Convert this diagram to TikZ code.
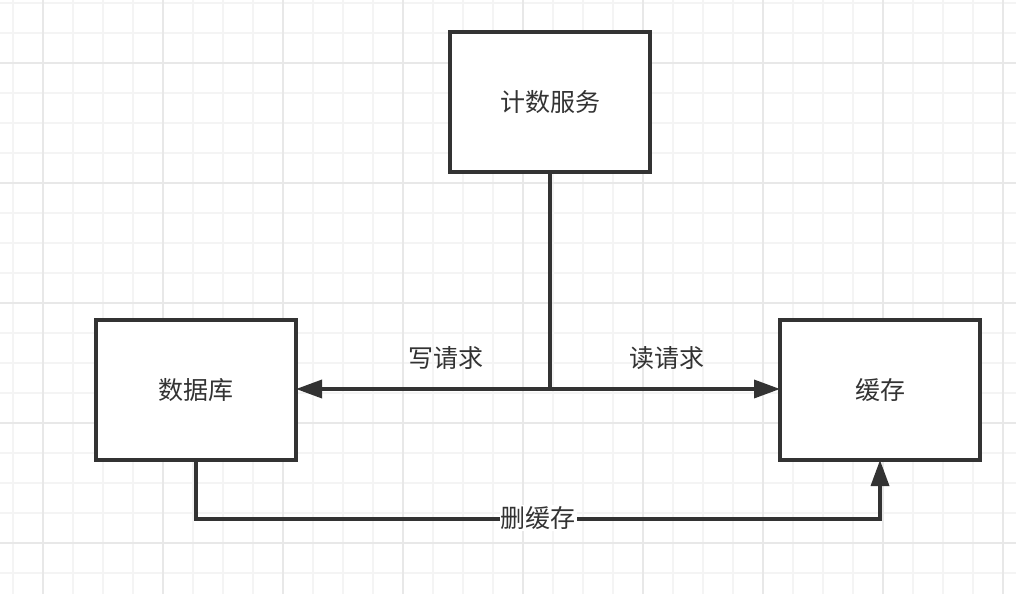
\documentclass[tikz,border=0pt]{standalone}
\usepackage{fontspec}
\setmainfont{Noto Sans CJK SC}
\usetikzlibrary{arrows.meta}
\definecolor{ink}{HTML}{333333}
\definecolor{gridminor}{HTML}{F4F4F4}
\definecolor{gridmajor}{HTML}{E8E8E8}
\begin{document}
\begin{tikzpicture}[x=1pt,y=-1pt,
  box/.style={draw=ink,line width=3.3pt,fill=white,minimum width=200pt,minimum height=140pt,inner sep=0pt,outer sep=0pt,text=ink,font=\fontsize{25}{28}\selectfont},
  conn/.style={draw=ink,line width=3.5pt},
  arr/.style={conn,-{Triangle[length=26pt,width=18pt]}},
  lbl/.style={text=ink,font=\fontsize{25}{28}\selectfont,inner sep=1pt}]
\useasboundingbox (0,0) rectangle (1016,594);
\fill[white] (0,0) rectangle (1016,594);
% grid
\foreach \x in {13,43,...,1016} \draw[gridminor,line width=1.6pt] (\x,0) -- (\x,594);
\foreach \y in {3,33,...,594} \draw[gridminor,line width=1.6pt] (0,\y) -- (1016,\y);
\foreach \x in {43,163,...,1016} \draw[gridmajor,line width=1.6pt] (\x,0) -- (\x,594);
\foreach \y in {63,183,...,594} \draw[gridmajor,line width=1.6pt] (0,\y) -- (1016,\y);
% nodes
\node[box] (svc) at (550,102) {计数服务};
\node[box] (db) at (196,390) {数据库};
\node[box] (cache) at (880,390) {缓存};
\coordinate (j) at (550,389);
\coordinate (bl) at (196,519);
\coordinate (br) at (880,519);
% connectors
\draw[conn] (svc.south) -- (j);
\draw[arr] (j) -- node[lbl,pos=0.41,above=17pt] {写请求} (j -| db.east);
\draw[arr] (j) -- node[lbl,pos=0.51,above=17pt] {读请求} (j -| cache.west);
\draw[arr] (db.south) -- (bl) -- node[lbl,fill=white,yshift=1pt] {删缓存} (br) -- (cache.south);
\end{tikzpicture}
\end{document}
